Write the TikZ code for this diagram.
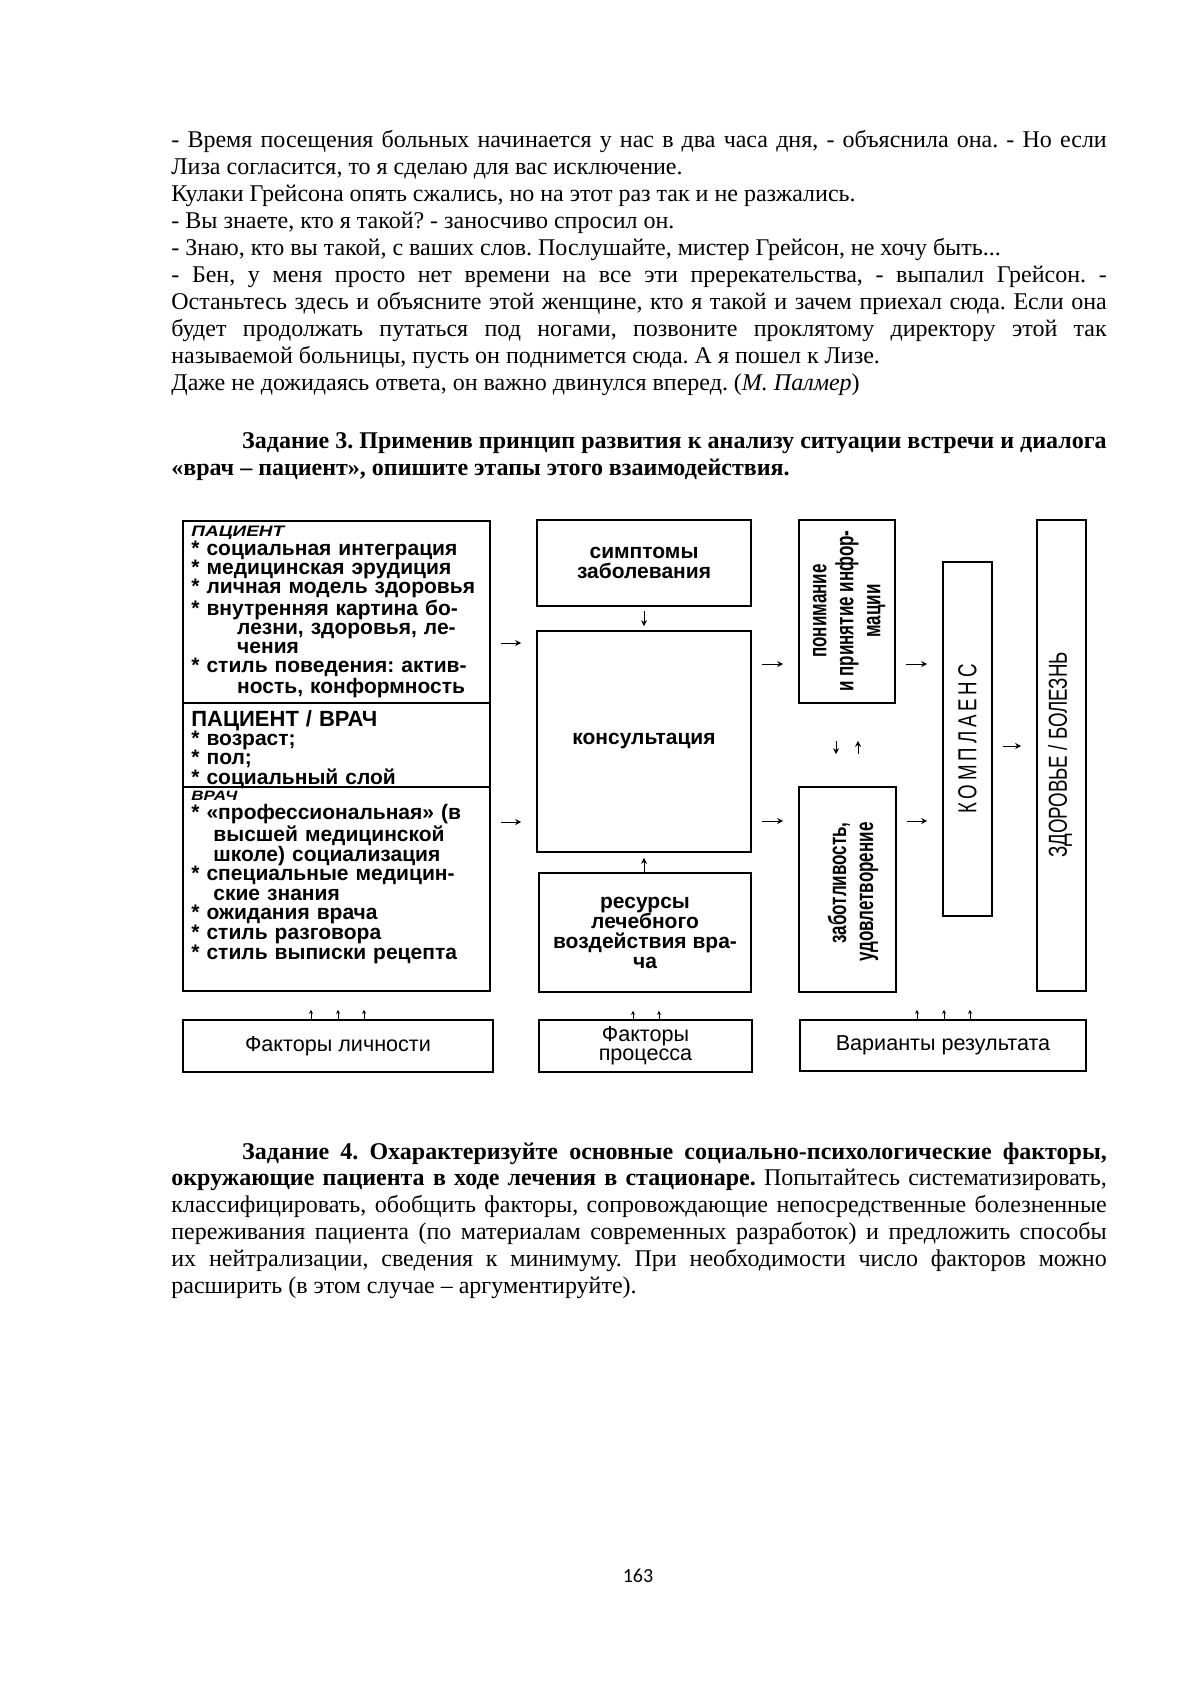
\documentclass[tikz,border=0pt]{standalone}
\usepackage{fontspec}
\setmainfont{Liberation Serif}
\setsansfont{Liberation Sans}
\newfontfamily\narrowsans[FakeStretch=0.72]{Liberation Sans}
\newfontfamily\narrowbold[FakeStretch=0.68]{Liberation Sans}
\newfontfamily\widesans[FakeStretch=1.25]{Liberation Sans}
\newfontfamily\pagefont{Carlito}
\usetikzlibrary{arrows.meta,positioning,calc}
\tolerance=9999
\hbadness=10000
\frenchspacing
\newcommand{\jline}[2]{\hspace*{#1}\makebox[\dimexpr\linewidth-#1\relax][s]{#2}}
\newcommand{\hdr}[2]{{\widesans\bfseries\itshape\fontsize{#1}{9.55}\selectfont #2}}

\begin{document}
\begin{tikzpicture}[x=0.5pt, y=-0.5pt,
    box/.style={draw=black, line width=0.8pt, inner sep=0pt},
    story/.style={anchor=base west, inner sep=0pt, text width=467.7pt, align=justify, font=\fontsize{12}{13.45}\selectfont},
    itemlist/.style={anchor=base west, inner sep=0pt, text width=146pt, align=left, font=\sffamily\bfseries\fontsize{10.5}{9.55}\selectfont},
    boxtext/.style={font=\sffamily\bfseries\fontsize{10.5}{10}\selectfont, align=center},
    vtext/.style={rotate=90, inner sep=0pt, font=\narrowbold\bfseries\fontsize{12.5}{13.5}\selectfont},
    bottomtext/.style={font=\sffamily\fontsize{10.8}{9.6}\selectfont, align=center},
    arr/.style={-{Stealth[length=3pt,width=3pt]}, line width=0.5pt, shorten <=5pt, shorten >=7.5pt},
    tick/.style={-{Stealth[length=2pt,width=2pt]}, line width=0.5pt, shorten >=9pt}
]
    \useasboundingbox (0,0) rectangle (1191,1684);
    \fill[white] (0,0) rectangle (1191,1684);

    % Story text on top
    \node[story] (story) at (171,148) {- Время посещения больных начинается у нас в два часа дня, - объяснила она. - Но если \linebreak Лиза согласится, то я сделаю для вас исключение.\par
Кулаки Грейсона опять сжались, но на этот раз так и не разжались.\par
- Вы знаете, кто я такой? - заносчиво спросил он.\par
- Знаю, кто вы такой, с ваших слов. Послушайте, мистер Грейсон, не хочу быть...\par
- Бен, у меня просто нет времени на все эти пререкательства, - выпалил Грейсон. - \linebreak Останьтесь здесь и объясните этой женщине, кто я такой и зачем приехал сюда. Если она \linebreak будет продолжать путаться под ногами, позвоните проклятому директору этой так \linebreak называемой больницы, пусть он поднимется сюда. А я пошел к Лизе.\par
Даже не дожидаясь ответа, он важно двинулся вперед. (\textit{М. Палмер})};

    % Task 3
    \node[story, font=\bfseries\fontsize{12}{13.45}\selectfont] (task3) at (171,449) {\hspace*{35.4pt}Задание 3. Применив принцип развития к анализу ситуации встречи и диалога \linebreak «врач – пациент», опишите этапы этого взаимодействия.};

    % Patient / doctor box on the left
    \node[box, minimum width=153.5pt, minimum height=235pt] (pat) at (336.5,756) {};
    \draw[line width=0.8pt] ($(pat.north west)+(0,183)$) -- ($(pat.north east)+(0,183)$);
    \draw[line width=0.8pt] ($(pat.north west)+(0,267)$) -- ($(pat.north east)+(0,267)$);

    \node[itemlist] (patlist) at (191,536) {\hdr{7.6}{ПАЦИЕНТ}\\
{*} социальная интеграция\\
{*} медицинская эрудиция\\
{*} личная модель здоровья\\
\jline{0pt}{* внутренняя картина бо-}\\
\jline{22.9pt}{лезни, здоровья, ле-}\\
\hspace*{22.9pt}чения\\
\jline{0pt}{* стиль поведения: актив-}\\
\jline{22.9pt}{ность, конформность}};

    \node[itemlist] (pairlist) at (191,726.7) {{\fontsize{11}{9.55}\selectfont ПАЦИЕНТ / ВРАЧ}\\
{*} возраст;\\
{*} пол;\\
{*} социальный слой};

    \node[itemlist, font=\sffamily\bfseries\fontsize{10.5}{9.8}\selectfont] (doclist) at (191,800) {\hdr{6.8}{ВРАЧ}\\
\jline{0pt}{* «профессиональная» (в}\\
\jline{11pt}{высшей медицинской}\\
\hspace*{11pt}школе) социализация\\
\jline{0pt}{* специальные медицин-}\\
\hspace*{11pt}ские знания\\
{*} ожидания врача\\
{*} стиль разговора\\
{*} стиль выписки рецепта};

    % Consultation column
    \node[box, boxtext, minimum width=107pt, minimum height=43pt] (sym) at (644,563) {симптомы\\заболевания};
    \node[box, boxtext, minimum width=107pt, minimum height=110.5pt] (cons) at (644,741.5) {консультация};
    \node[box, boxtext, minimum width=106pt, minimum height=59.5pt] (res) at (645,932.5) {ресурсы\\лечебного\\воздействия вра-\\ча};

    % Understanding and care
    \node[box, minimum width=48pt, minimum height=91.5pt] (und) at (847,611.5) {};
    \node[vtext, align=center] (undtxt) at (849,611) {понимание\\и принятие инфор-\\мации};
    \node[box, minimum width=48.5pt, minimum height=102.5pt] (care) at (847.5,889.5) {};
    \node[vtext, align=right, anchor=east] (caretxt) at (853,822) {заботливость,\\удовлетворение};

    % Compliance and health
    \node[box, minimum width=24.5pt, minimum height=177pt] (comp) at (967.5,739) {};
    \node[vtext, font=\narrowsans\fontsize{13}{14}\selectfont] (comptxt) at (967.5,739) {\addfontfeature{LetterSpace=15}КОМПЛАЕНС};
    \node[box, minimum width=24.5pt, minimum height=235.5pt] (health) at (1061.5,755.5) {};
    \node[vtext, font=\narrowsans\fontsize{13}{14}\selectfont] (healthtxt) at (1060,755) {ЗДОРОВЬЕ / БОЛЕЗНЬ};

    % Factor boxes at the bottom
    \node[box, bottomtext, minimum width=155pt, minimum height=26pt] (pers) at (338,1046) {Факторы личности};
    \node[box, bottomtext, minimum width=106.5pt, minimum height=26pt] (proc) at (645.5,1046) {Факторы\\процесса};
    \node[box, bottomtext, minimum width=143pt, minimum height=25.5pt] (outc) at (943,1045.5) {Варианты результата};

    % Arrows: patient box to consultation
    \draw[arr] (pat.east |- 0,643) -- (cons.west |- 0,643);
    \draw[arr] (pat.east |- 0,822) -- (cons.west |- 0,822);

    % Arrows: symptoms and resources to consultation
    \draw[arr, shorten <=2pt, shorten >=2pt] (sym.south) -- (cons.north);
    \draw[arr, shorten <=0pt, shorten >=2.5pt] (res.north -| cons.south) -- (cons.south);

    % Arrows: consultation onwards
    \draw[arr] (cons.east |- 0,664) -- (und.west |- 0,664);
    \draw[arr] (cons.east |- 0,821) -- (care.west |- 0,821);
    \draw[arr] (und.east |- 0,664) -- (comp.west |- 0,664);
    \draw[arr] (care.east |- 0,821) -- (comp.west |- 0,821);
    \draw[arr] (comp.east |- 0,746) -- (health.west |- 0,746);
    \draw[arr, shorten <=18.5pt, shorten >=16pt] (und.south -| 836,0) -- (care.north -| 836,0);
    \draw[arr, shorten <=16pt, shorten >=18.5pt] (care.north -| 858,0) -- (und.south -| 858,0);

    % Small arrows above the factor boxes
    \foreach \x in {311,338,364} {
        \draw[tick] (pers.north -| \x,0) -- (pat.south -| \x,0);
    }
    \foreach \x in {633,659} {
        \draw[tick] (proc.north -| \x,0) -- (res.south -| \x,0);
    }
    \foreach \x in {917,944,970} {
        \draw[tick] (outc.north -| \x,0) -- (health.south -| \x,0);
    }

    % Task 4
    \node[story] (task4) at (171,1159) {\hspace*{35.4pt}\textbf{Задание 4. Охарактеризуйте основные социально-психологические факторы,} \linebreak \textbf{окружающие пациента в ходе лечения в стационаре.} Попытайтесь систематизировать, \linebreak классифицировать, обобщить факторы, сопровождающие непосредственные болезненные \linebreak переживания пациента (по материалам современных разработок) и предложить способы \linebreak их нейтрализации, сведения к минимуму. При необходимости число факторов можно \linebreak расширить (в этом случае – аргументируйте).};

    % Page number
    \node[anchor=base, inner sep=0pt, font=\pagefont\fontsize{10}{12}\selectfont] (pagenum) at (638,1582) {163};
\end{tikzpicture}
\end{document}
